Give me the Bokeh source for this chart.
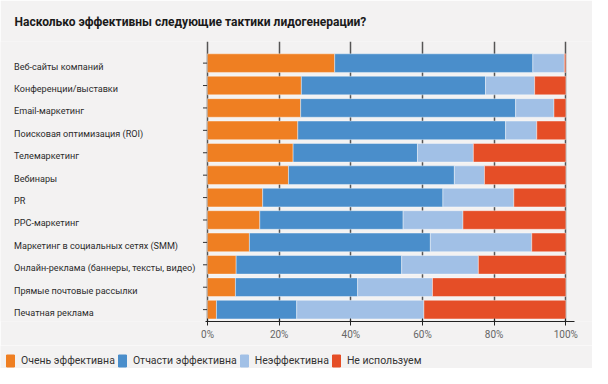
from bokeh.plotting import figure
from bokeh.layouts import column
from bokeh.models import (ColumnDataSource, Range1d, FixedTicker, Legend, LegendItem)
from bokeh.core.properties import value
from bokeh.embed import file_html
from bokeh.resources import INLINE

# ---------------- data ----------------
categories = [
    "Веб-сайты компаний",
    "Конференции/выставки",
    "Email-маркетинг",
    "Поисковая оптимизация (ROI)",
    "Телемаркетинг",
    "Вебинары",
    "PR",
    "PPC-маркетинг",
    "Маркетинг в социальных сетях (SMM)",
    "Онлайн-реклама (баннеры, тексты, видео)",
    "Прямые почтовые рассылки",
    "Печатная реклама",
]
very_effective = [35.5, 26.2, 26.0, 25.2, 23.9, 22.6, 15.4, 14.6, 11.7, 8.0, 7.8, 2.5]
partly_effective = [55.3, 51.4, 60.0, 58.0, 34.7, 46.3, 50.3, 40.0, 50.5, 46.2, 34.1, 22.4]
not_effective = [8.8, 13.7, 10.7, 8.7, 15.6, 8.4, 19.8, 16.7, 28.3, 21.4, 20.9, 35.5]
not_used = [0.4, 8.7, 3.3, 8.1, 25.8, 22.7, 14.5, 28.7, 9.5, 24.4, 37.2, 39.6]
series_names = ["Очень эффективна", "Отчасти эффективна", "Неэффективна", "Не используем"]
x_ticks = [0, 20, 40, 60, 80, 100]
x_tick_labels = ["0%", "20%", "40%", "60%", "80%", "100%"]
title_text = "Насколько эффективны следующие тактики лидогенерации?"

# ---------------- styles ----------------
colors = ["#ef7f22", "#4a8ecb", "#a1c0e6", "#e54e27"]
BG = "#f3f2f2"
FONT = "Roboto"
LABEL_X = -54  # left edge of category labels (data units, left of the 0% line)

n = len(categories)
ypos = [n - 1 - i for i in range(n)]
keys = ["s0", "s1", "s2", "s3"]
source = ColumnDataSource(dict(
    y=ypos, cat=categories,
    s0=very_effective, s1=partly_effective, s2=not_effective, s3=not_used,
))

# ---------------- main chart ----------------
p = figure(width=592, height=345, output_backend="svg", toolbar_location=None,
           x_range=Range1d(-57.77, 107.45), y_range=Range1d(-0.53, 11.965),
           min_border_left=0, min_border_right=0, min_border_top=36, min_border_bottom=24)
p.background_fill_color = BG
p.border_fill_color = BG
p.outline_line_color = None

p.title.text = title_text
p.title.text_font = FONT
p.title.text_font_size = "12px"
p.title.text_font_style = "bold"
p.title.text_color = "#1a1a1a"
p.title.offset = 14
p.title.standoff = 25

# y tick stubs (right half hidden behind bars)
p.scatter(x=0, y="y", source=source, marker="dash", size=9, line_color="#333333", line_width=1)

p.hbar_stack(keys, y="y", height=0.83, source=source, color=colors,
             line_color="#ffffff", line_alpha=0.5, line_width=0.8)

p.text(x=LABEL_X, y="y", text="cat", source=source, text_align="left",
       text_baseline="middle", y_offset=3.5, text_font=value(FONT), text_font_size="9.1px",
       text_color="#2b2b2b")

p.yaxis.visible = False
p.ygrid.visible = False
xa = p.xaxis[0]
xa.ticker = FixedTicker(ticks=x_ticks)
xa.major_label_overrides = {t: l for t, l in zip(x_ticks, x_tick_labels)}
xa.bounds = (-0.5, 102.3)
xa.axis_line_color = "#222222"
xa.axis_line_width = 1.2
xa.major_tick_line_color = "#222222"
xa.major_tick_in = 3
xa.major_tick_out = 4
xa.minor_tick_line_color = None
xa.major_label_text_font = FONT
xa.major_label_text_font_size = "10px"
xa.major_label_text_color = "#666666"
xa.major_label_standoff = 3
p.xgrid.ticker = FixedTicker(ticks=x_ticks)
p.xgrid.grid_line_color = "#555555"
p.xgrid.grid_line_width = 1.5
p.xgrid.level = "underlay"

# ---------------- legend strip ----------------
pl = figure(width=592, height=23, output_backend="svg", toolbar_location=None,
            x_range=Range1d(-100, -50), y_range=Range1d(-100, -50),
            x_axis_type=None, y_axis_type=None, min_border=0)
pl.background_fill_color = BG
pl.border_fill_color = BG
pl.outline_line_color = None
pl.grid.visible = False
lrs = pl.hbar_stack(keys, y="y", height=0.83, source=source, color=colors)

legend = Legend(items=[LegendItem(label=nm, renderers=[r]) for nm, r in zip(series_names, lrs)],
                location=(5, 0), orientation="horizontal",
                glyph_width=10, glyph_height=15, label_standoff=6, spacing=2,
                padding=1, margin=0,
                label_text_font=FONT, label_text_font_size="10.5px", label_text_color="#333333",
                background_fill_alpha=0, border_line_color=None)
pl.add_layout(legend, "center")

layout = column(p, pl, spacing=0)
open("out.html", "w").write(file_html(layout, INLINE))
